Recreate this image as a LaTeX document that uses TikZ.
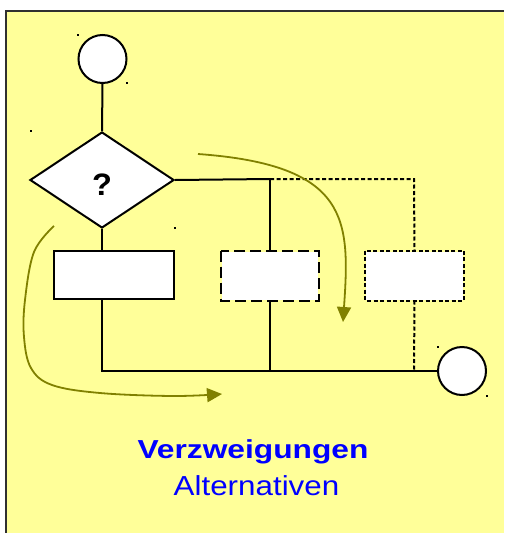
\documentclass[tikz,border=0pt]{standalone}
\usepackage{fontspec}
\setmainfont{Liberation Sans}
\usetikzlibrary{arrows.meta,shapes.geometric}
\definecolor{bgyellow}{HTML}{FFFF99}
\definecolor{arrowolive}{HTML}{808000}
\definecolor{titleblue}{HTML}{0000FF}
\definecolor{framegray}{HTML}{303030}
\tikzset{
  flow/.style={line width=2pt, black},
  shortdash/.style={flow, dash pattern=on 4pt off 2.5pt},
  longdash/.style={flow, dash pattern=on 11pt off 5pt},
  terminal/.style={circle, draw=black, line width=2pt, fill=white, minimum size=48pt, inner sep=0pt},
  decision/.style={diamond, draw=black, line width=2pt, fill=white, inner sep=0pt, minimum width=144pt, minimum height=96pt},
  stepbox/.style={rectangle, draw=black, line width=2pt, fill=white, minimum width=120pt, minimum height=48pt, inner sep=0pt},
  pathhint/.style={draw=arrowolive, line width=1.8pt, -{Triangle[length=15pt,width=14pt]}},
  handle/.style={fill=black, minimum size=2.4pt, inner sep=0pt, rectangle},
}
\begin{document}
\begin{tikzpicture}[x=1pt, y=-1pt]
\useasboundingbox (0,0) rectangle (504,533);
\fill[white] (0,0) rectangle (504,533);
\fill[bgyellow] (6,11) rectangle (504,533);
\draw[framegray, line width=2pt] (6,533) -- (6,11) -- (504,11);

% nodes
\node[terminal] (start) at (102.5,59) {};
\node[decision] (dec) at (102,180) {};
\node[anchor=base] (q) at (102,195) {\scalebox{1.05}[1]{\bfseries\fontsize{31}{33}\selectfont ?}};
\node[stepbox] (b1) at (114,275) {};
\node[stepbox, draw=none, minimum width=96pt] (b2) at (270,275.5) {};
\node[stepbox, draw=none, minimum width=97pt] (b3) at (414.5,275.5) {};
\node[terminal] (end) at (462,371) {};

\coordinate (j1) at (270,179);
\coordinate (j2) at (414,179);
\coordinate (m0) at (102,371);
\coordinate (m1) at (270,371);
\coordinate (m2) at (414,371);

% connectors
\draw[flow] (start.south) -- (dec.north);
\draw[flow] (dec.south) -- (dec.south |- b1.north);
\draw[flow] (dec.east) -- (j1);
\draw[flow] (j1) -- (b2.north);
\draw[flow] (m0 |- b1.south) -- (m0) -- (end.west);
\draw[flow] (b2.south) -- (m1);
\draw[shortdash] (j1) -- (j2) -- (b3.north);
\draw[shortdash] (b3.south) -- (m2);

% dashed boxes
\draw[longdash] (b2.north west) rectangle (b2.south east);
\draw[shortdash] (b3.north west) rectangle (b3.south east);

% olive path hints
\coordinate (h1s) at (198,154);
\coordinate (h1e) at (343,322);
\draw[pathhint] (h1s) .. controls (350,165) and (350,220) .. (h1e);
\coordinate (h2s) at (54,226);
\coordinate (h2e) at (222,394);
\draw[pathhint] plot[smooth, tension=0.6] coordinates {(h2s) (34,252) (25,300) (24,337) (31,368) (52,385) (100,393) (173,396) (h2e)};

% selection handles
\node[handle] (k1) at (78,35) {};
\node[handle] (k2) at (127,83) {};
\node[handle] (k3) at (31,131) {};
\node[handle] (k4) at (175,228) {};
\node[handle] (k5) at (438,347) {};
\node[handle] (k6) at (487,396) {};

% title
\node[text=titleblue, anchor=base] (t1) at (253,458) {\scalebox{1.22}[1]{\bfseries\fontsize{26}{28}\selectfont Verzweigungen}};
\node[text=titleblue, anchor=base] (t2) at (256.5,495) {\scalebox{1.14}[1]{\fontsize{27.5}{30}\selectfont Alternativen}};
\end{tikzpicture}
\end{document}
